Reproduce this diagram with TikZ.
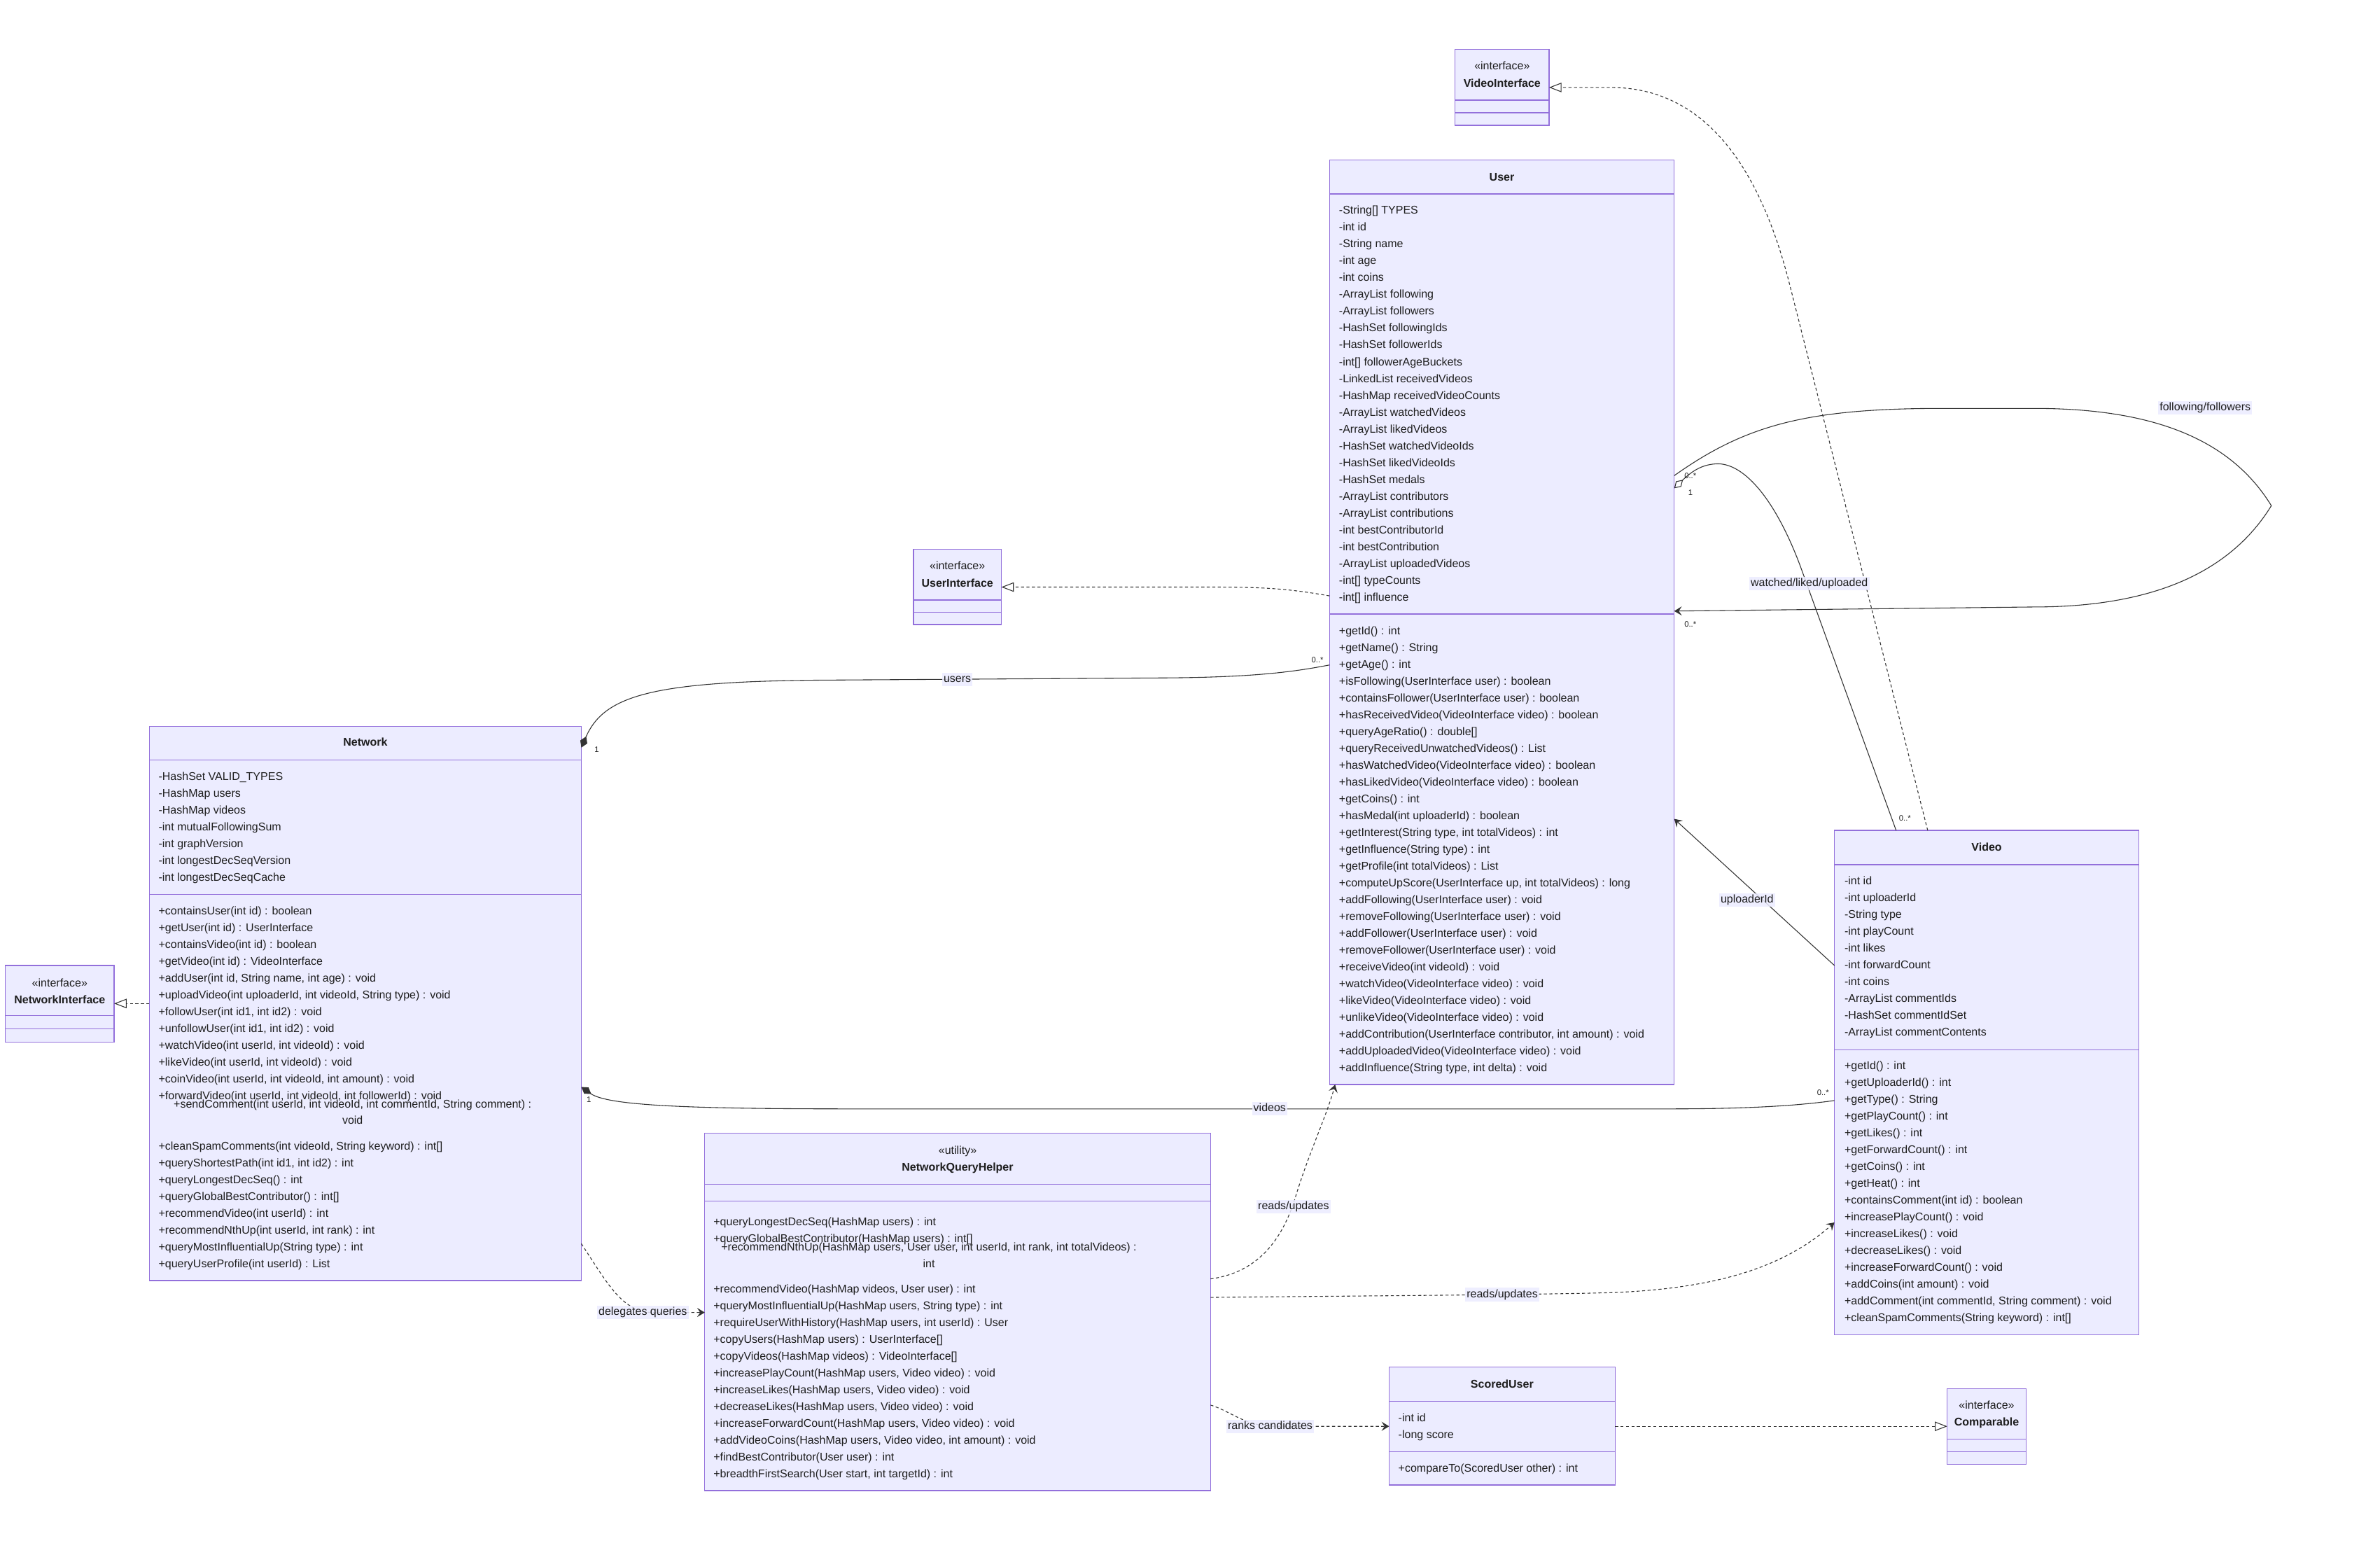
\documentclass[tikz,border=0pt]{standalone}
\usepackage{fontspec}
\setmainfont{Liberation Sans}
\usetikzlibrary{arrows.meta}
\definecolor{boxf}{HTML}{ECECFF}
\definecolor{boxc}{HTML}{9370DB}
\definecolor{linec}{HTML}{333333}
\definecolor{txtc}{HTML}{1E1E1E}
\newcommand{\fs}{\fontsize{7.38}{11.07}\selectfont}
\newcommand{\clines}[4]{\foreach \itm [count=\i from 0] in {#4} {\node[txt] (#1-\i) at (#2, {#3+2.6+\i*11.07}) {\itm};}}
\newcommand{\sepl}[2]{\draw[sepline] (#1.west |- 0,#2) -- (#1.east |- 0,#2);}
\begin{document}
\begin{tikzpicture}[x=1pt,y=-1pt,
  box/.style={draw=boxc,fill=boxf,line width=0.6pt,inner sep=0pt,outer sep=0pt,anchor=north west},
  sepline/.style={draw=boxc,line width=0.6pt},
  txt/.style={anchor=base west,inner sep=0pt,font=\fs,text=txtc},
  ctxt/.style={anchor=base,inner sep=0pt,font=\fs,text=txtc},
  ttl/.style={anchor=base,inner sep=0pt,font=\fs\bfseries,text=txtc},
  mult/.style={anchor=center,inner sep=0pt,font=\fontsize{5.2}{6}\selectfont,text=txtc},
  elabel/.style={anchor=center,inner sep=1pt,font=\fs,text=txtc,fill=boxf,fill opacity=0.85,text opacity=1,text height=5.3pt,text depth=1.5pt},
  conn/.style={draw=linec,line width=0.5pt},
  dotl/.style={conn,dash pattern=on 2pt off 1.6pt},
  comp/.style={conn,{Diamond[length=8pt,width=5pt]}-},
  aggr/.style={conn,{Diamond[open,length=8pt,width=5pt]}-},
  assoc/.style={conn,-{Stealth[length=5pt,width=6pt,inset=2pt]}},
  dep/.style={dotl,-{Stealth[length=5pt,width=6pt,inset=2pt]}},
  real/.style={dotl,-{Triangle[open,length=8.2pt,width=6.2pt]}}
]
\fill[white] (0,0) rectangle (1568,1015);
\useasboundingbox (0,0) rectangle (1568,1015);

% ---------- VideoInterface ----------
\node[box,minimum width=61.8pt,minimum height=50.1pt] (vif) at (958.7,32.4) {};
\node[ctxt] (vif-s) at (989.6,45.9) {«interface»};
\node[ttl] (vif-t) at (989.6,57.3) {VideoInterface};
\sepl{vif}{66}
\sepl{vif}{74.3}

% ---------- User ----------
\node[box,minimum width=227.1pt,minimum height=608.9pt] (user) at (875.9,105.5) {};
\node[ttl] (user-t) at (989.45,119.1) {User};
\sepl{user}{127.8}
\sepl{user}{404.5}
\clines{ua}{882}{138.5}{{-String[] TYPES},{-int id},{-String name},{-int age},{-int coins},{-ArrayList following},{-ArrayList followers},{-HashSet followingIds},{-HashSet followerIds},{-int[] followerAgeBuckets},{-LinkedList receivedVideos},{-HashMap receivedVideoCounts},{-ArrayList watchedVideos},{-ArrayList likedVideos},{-HashSet watchedVideoIds},{-HashSet likedVideoIds},{-HashSet medals},{-ArrayList contributors},{-ArrayList contributions},{-int bestContributorId},{-int bestContribution},{-ArrayList uploadedVideos},{-int[] typeCounts},{-int[] influence}}
\clines{um}{882}{415.4}{{+getId() : int},{+getName() : String},{+getAge() : int},{+isFollowing(UserInterface user) : boolean},{+containsFollower(UserInterface user) : boolean},{+hasReceivedVideo(VideoInterface video) : boolean},{+queryAgeRatio() : double[]},{+queryReceivedUnwatchedVideos() : List},{+hasWatchedVideo(VideoInterface video) : boolean},{+hasLikedVideo(VideoInterface video) : boolean},{+getCoins() : int},{+hasMedal(int uploaderId) : boolean},{+getInterest(String type, int totalVideos) : int},{+getInfluence(String type) : int},{+getProfile(int totalVideos) : List},{+computeUpScore(UserInterface up, int totalVideos) : long},{+addFollowing(UserInterface user) : void},{+removeFollowing(UserInterface user) : void},{+addFollower(UserInterface user) : void},{+removeFollower(UserInterface user) : void},{+receiveVideo(int videoId) : void},{+watchVideo(VideoInterface video) : void},{+likeVideo(VideoInterface video) : void},{+unlikeVideo(VideoInterface video) : void},{+addContribution(UserInterface contributor, int amount) : void},{+addUploadedVideo(VideoInterface video) : void},{+addInfluence(String type, int delta) : void}}

% ---------- UserInterface ----------
\node[box,minimum width=57.9pt,minimum height=49.5pt] (uif) at (601.8,361.8) {};
\node[ctxt] (uif-s) at (630.75,375.3) {«interface»};
\node[ttl] (uif-t) at (630.75,386.6) {UserInterface};
\sepl{uif}{395.2}
\sepl{uif}{403.4}

% ---------- Network ----------
\node[box,minimum width=284.6pt,minimum height=365pt] (net) at (98.4,478.5) {};
\node[ttl] (net-t) at (240.7,491.6) {Network};
\sepl{net}{500.7}
\sepl{net}{589.2}
\clines{na}{104.3}{511.3}{{-HashSet VALID\_TYPES},{-HashMap users},{-HashMap videos},{-int mutualFollowingSum},{-int graphVersion},{-int longestDecSeqVersion},{-int longestDecSeqCache}}
\clines{nm}{104.3}{599.8}{{+containsUser(int id) : boolean},{+getUser(int id) : UserInterface},{+containsVideo(int id) : boolean},{+getVideo(int id) : VideoInterface},{+addUser(int id, String name, int age) : void},{+uploadVideo(int uploaderId, int videoId, String type) : void},{+followUser(int id1, int id2) : void},{+unfollowUser(int id1, int id2) : void},{+watchVideo(int userId, int videoId) : void},{+likeVideo(int userId, int videoId) : void},{+coinVideo(int userId, int videoId, int amount) : void},{+forwardVideo(int userId, int videoId, int followerId) : void}}
\node[ctxt] (nm-w1) at (232.3,729.8) {+sendComment(int userId, int videoId, int commentId, String comment) :};
\node[ctxt] (nm-w2) at (232.3,740.6) {void};
\clines{nn}{104.3}{754.8}{{+cleanSpamComments(int videoId, String keyword) : int[]},{+queryShortestPath(int id1, int id2) : int},{+queryLongestDecSeq() : int},{+queryGlobalBestContributor() : int[]},{+recommendVideo(int userId) : int},{+recommendNthUp(int userId, int rank) : int},{+queryMostInfluentialUp(String type) : int},{+queryUserProfile(int userId) : List}}

% ---------- NetworkInterface ----------
\node[box,minimum width=71.7pt,minimum height=50.3pt] (netif) at (3.5,636) {};
\node[ctxt] (netif-s) at (39.35,649.9) {«interface»};
\node[ttl] (netif-t) at (39.35,661) {NetworkInterface};
\sepl{netif}{669}
\sepl{netif}{677.6}

% ---------- NetworkQueryHelper ----------
\node[box,minimum width=333.2pt,minimum height=235.4pt] (nqh) at (464.3,746.4) {};
\node[ctxt] (nqh-s) at (630.9,760.3) {«utility»};
\node[ttl] (nqh-t) at (630.9,771.4) {NetworkQueryHelper};
\sepl{nqh}{780}
\sepl{nqh}{791}
\clines{qa}{469.9}{804.7}{{+queryLongestDecSeq(HashMap users) : int},{+queryGlobalBestContributor(HashMap users) : int[]}}
\node[ctxt] (qw1) at (612,824) {+recommendNthUp(HashMap users, User user, int userId, int rank, int totalVideos) :};
\node[ctxt] (qw2) at (612,835.1) {int};
\clines{qb}{469.9}{849}{{+recommendVideo(HashMap videos, User user) : int},{+queryMostInfluentialUp(HashMap users, String type) : int},{+requireUserWithHistory(HashMap users, int userId) : User},{+copyUsers(HashMap users) : UserInterface[]},{+copyVideos(HashMap videos) : VideoInterface[]},{+increasePlayCount(HashMap users, Video video) : void},{+increaseLikes(HashMap users, Video video) : void},{+decreaseLikes(HashMap users, Video video) : void},{+increaseForwardCount(HashMap users, Video video) : void},{+addVideoCoins(HashMap users, Video video, int amount) : void},{+findBestContributor(User user) : int},{+breadthFirstSearch(User start, int targetId) : int}}

% ---------- Video ----------
\node[box,minimum width=200.5pt,minimum height=332.3pt] (video) at (1208.6,547) {};
\node[ttl] (video-t) at (1308.85,560.6) {Video};
\sepl{video}{569.6}
\sepl{video}{691.4}
\clines{va}{1215}{580}{{-int id},{-int uploaderId},{-String type},{-int playCount},{-int likes},{-int forwardCount},{-int coins},{-ArrayList commentIds},{-HashSet commentIdSet},{-ArrayList commentContents}}
\clines{vm}{1215}{702}{{+getId() : int},{+getUploaderId() : int},{+getType() : String},{+getPlayCount() : int},{+getLikes() : int},{+getForwardCount() : int},{+getCoins() : int},{+getHeat() : int},{+containsComment(int id) : boolean},{+increasePlayCount() : void},{+increaseLikes() : void},{+decreaseLikes() : void},{+increaseForwardCount() : void},{+addCoins(int amount) : void},{+addComment(int commentId, String comment) : void},{+cleanSpamComments(String keyword) : int[]}}

% ---------- ScoredUser ----------
\node[box,minimum width=148.8pt,minimum height=77.6pt] (su) at (915.2,900.5) {};
\node[ttl] (su-t) at (989.6,914.2) {ScoredUser};
\sepl{su}{922.9}
\sepl{su}{956.1}
\node[txt] (su-a1) at (921.1,936.5) {-int id};
\node[txt] (su-a2) at (921.1,947.7) {-long score};
\node[txt] (su-m1) at (921.1,969.8) {+compareTo(ScoredUser other) : int};

% ---------- Comparable ----------
\node[box,minimum width=51.8pt,minimum height=49.8pt] (cmp) at (1282.9,914.6) {};
\node[ctxt] (cmp-s) at (1308.8,927.9) {«interface»};
\node[ttl] (cmp-t) at (1308.8,939.3) {Comparable};
\sepl{cmp}{947.8}
\sepl{cmp}{956.1}

% ---------- connectors ----------
\draw[real] (video.north -| 1270,0) -- (1179.7,190) .. controls (1155,90) and (1110,57.6) .. (1061,57.6) -- (vif.east |- 0,57.6);
\draw[real] (user.west |- 0,392.5) .. controls (850,388) and (835,386.7) .. (800,386.7) -- (uif.east |- 0,386.7);
\draw[real] (net.west |- 0,661) -- (netif.east |- 0,661);
\draw[comp] (net.east |- 0,492.4) .. controls (398,458) and (430,449) .. (540,448) -- (770,446.5) .. controls (830,446) and (855,442) .. (user.west |- 0,438);
\draw[comp] (net.east |- 0,716) .. controls (400,728) and (450,730.4) .. (560,730.4) -- (1100,730.4) .. controls (1160,730.4) and (1190,727.5) .. (video.west |- 0,724.9);
\draw[assoc] (user.east |- 0,313.3) .. controls (1150,280) and (1190,269) .. (1280,269) -- (1340,269) .. controls (1420,269) and (1470,290) .. (1496.4,333.1) .. controls (1470,376) and (1420,399.8) .. (1340,399.8) -- (user.east |- 0,402.5);
\draw[aggr] (user.east |- 0,321.6) .. controls (1115,310) and (1122,305.5) .. (1132.2,305.5) .. controls (1150,306) and (1170,330) .. (1186,372.7) -- (video.north -| 1249.2,0);
\draw[assoc] (video.west |- 0,636) -- (user.east |- 0,539.4);
\draw[dep] (net.east |- 0,819.2) .. controls (400,845) and (410,864.5) .. (430,864.5) -- (nqh.west |- 0,864.5);
\draw[dep] (nqh.east |- 0,842.4) .. controls (830,838) and (845,815) .. (853,790) .. controls (862,760) and (874,735) .. (user.south -| 879.6,0);
\draw[dep] (nqh.east |- 0,854.6) .. controls (900,853.5) and (1000,853) .. (1060,851.5) .. controls (1130,849) and (1175,835) .. (video.west |- 0,805.2);
\draw[dep] (nqh.east |- 0,925.5) .. controls (812,930) and (820,939.5) .. (840,939.5) -- (su.west |- 0,939.5);
\draw[real] (su.east |- 0,939.5) -- (cmp.west |- 0,939.5);

% ---------- edge labels ----------
\node[elabel] (l-users) at (630.7,447.5) {users};
\node[elabel] (l-videos) at (836.5,730.4) {videos};
\node[elabel] (l-ff) at (1452.8,268.6) {following/followers};
\node[elabel] (l-wlu) at (1192,384.2) {watched/liked/uploaded};
\node[elabel] (l-up) at (1151,593) {uploaderId};
\node[elabel] (l-dq) at (423.5,864.4) {delegates queries};
\node[elabel] (l-ru1) at (852.2,794.7) {reads/updates};
\node[elabel] (l-ru2) at (989.7,852.7) {reads/updates};
\node[elabel] (l-rc) at (836.8,939.5) {ranks candidates};

% ---------- multiplicities ----------
\node[mult] (m1) at (393.2,493.7) {1};
\node[mult] (m2) at (868,434.6) {0..*};
\node[mult] (m3) at (388,724.5) {1};
\node[mult] (m4) at (1201,719.6) {0..*};
\node[mult] (m5) at (1113.6,313.3) {0..*};
\node[mult] (m6) at (1113.6,411.1) {0..*};
\node[mult] (m7) at (1113.7,324.3) {1};
\node[mult] (m8) at (1255,538.8) {0..*};
\end{tikzpicture}
\end{document}
